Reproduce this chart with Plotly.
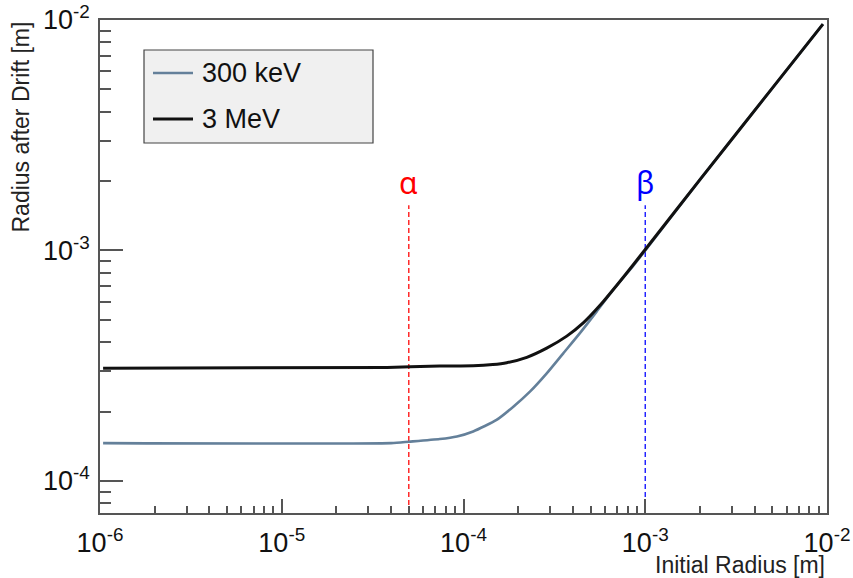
import numpy as np
import plotly.graph_objects as go

# Drift radius vs. initial radius for two beam energies
r0_300keV = [1.04e-6, 4.0e-5, 5.0e-5, 7.4e-5, 9.2e-5, 1.13e-4, 1.52e-4, 1.88e-4, 2.32e-4,
             2.87e-4, 3.54e-4, 4.37e-4, 5.40e-4, 6.5e-4, 8.6e-4, 1.01e-3, 2.0e-3, 5.0e-3, 9.5e-3]
rd_300keV = [1.46e-4, 1.46e-4, 1.48e-4, 1.52e-4, 1.56e-4, 1.64e-4, 1.84e-4, 2.10e-4, 2.44e-4,
             2.93e-4, 3.58e-4, 4.38e-4, 5.43e-4, 6.60e-4, 8.6e-4, 1.01e-3, 2.03e-3, 5.06e-3, 9.6e-3]

r0_3MeV = [1.04e-6, 3.8e-5, 7.4e-5, 1.13e-4, 1.45e-4, 1.73e-4, 2.23e-4, 2.87e-4, 3.70e-4,
           4.56e-4, 5.64e-4, 6.96e-4, 8.59e-4, 1.01e-3, 2.0e-3, 5.0e-3, 9.5e-3]
rd_3MeV = [3.08e-4, 3.11e-4, 3.15e-4, 3.16e-4, 3.20e-4, 3.26e-4, 3.44e-4, 3.77e-4, 4.25e-4,
           4.85e-4, 5.78e-4, 7.05e-4, 8.67e-4, 1.02e-3, 2.03e-3, 5.06e-3, 9.6e-3]

series_names = ["300 keV", "3 MeV"]

# Marker positions (alpha, beta) and top of their guide lines
marker_x = [5e-5, 1e-3]
marker_labels = ["α", "β"]
marker_top = 1.57e-3

# Axis ranges (log10)
x_range = [-6, -2]
y_range = [-4.139, -2]

x_major = [1e-6, 1e-5, 1e-4, 1e-3, 1e-2]
x_major_text = ["10<sup>-6</sup>", "10<sup>-5</sup>", "10<sup>-4</sup>", "10<sup>-3</sup>", "10<sup>-2</sup>"]
y_major = [1e-4, 1e-3, 1e-2]
y_major_text = ["10<sup>-4</sup>", "10<sup>-3</sup>", "10<sup>-2</sup>"]

x_minor = [k * 10.0 ** e for e in range(-6, -2) for k in range(2, 10)]
y_minor = [8e-5, 9e-5] + [k * 10.0 ** e for e in (-4, -3) for k in range(2, 10)]

BLUE = "#64809a"
BLACK = "#111111"
AXIS = "#555555"
FONT = "Liberation Sans, Arial, sans-serif"

fig = go.Figure()

y_bottom = 10 ** y_range[0]
guide_colors = ["#ff1a1a", "#1a1aff"]
for mx, col in zip(marker_x, guide_colors):
    fig.add_trace(go.Scatter(x=[mx, mx], y=[y_bottom, marker_top], mode="lines",
                             line=dict(color=col, width=1.4, dash="5px,3px"),
                             showlegend=False, hoverinfo="skip"))

fig.add_trace(go.Scatter(x=r0_300keV, y=rd_300keV, mode="lines", name=series_names[0],
                         line=dict(color=BLUE, width=2.6, shape="spline", smoothing=0.6),
                         showlegend=False))
fig.add_trace(go.Scatter(x=r0_3MeV, y=rd_3MeV, mode="lines", name=series_names[1],
                         line=dict(color=BLACK, width=3, shape="spline", smoothing=0.6),
                         showlegend=False))

for mx, lab, col in zip(marker_x, marker_labels, ["#ff0000", "#0000ff"]):
    fig.add_annotation(x=np.log10(mx), y=np.log10(marker_top), xref="x", yref="y",
                       text=lab, showarrow=False, yanchor="bottom",
                       font=dict(family="Noto Sans, sans-serif", size=30, color=col))

# Legend box drawn in paper coordinates
W, H = 727.0, 493.0
def px(xp):
    return (xp - 100) / W
def py(yp):
    return (513 - yp) / H

fig.add_shape(type="rect", xref="paper", yref="paper", x0=px(144), x1=px(373), y0=py(143), y1=py(50),
              line=dict(color="#444444", width=1.2), fillcolor="#f0f0f0", layer="above")
for name, col, w, yy in zip(series_names, [BLUE, BLACK], [2.6, 3], [73, 119]):
    fig.add_shape(type="line", xref="paper", yref="paper", x0=px(153), x1=px(193), y0=py(yy), y1=py(yy),
                  line=dict(color=col, width=w), layer="above")
    fig.add_annotation(x=px(200), y=py(yy), xref="paper", yref="paper", text=name, showarrow=False,
                       xanchor="left", yanchor="middle", font=dict(family=FONT, size=27, color="#111111"))

# Axis titles
fig.add_annotation(x=1.0, y=py(565), xref="paper", yref="paper", text="Initial Radius [m]",
                   showarrow=False, xanchor="right", yanchor="middle",
                   font=dict(family=FONT, size=23, color="#222222"))
fig.add_annotation(x=px(20), y=1.0, xref="paper", yref="paper", text="Radius after Drift [m]",
                   showarrow=False, textangle=-90, xanchor="center", yanchor="top",
                   font=dict(family=FONT, size=23, color="#222222"))

fig.update_xaxes(type="log", range=x_range, tickmode="array", tickvals=x_major, ticktext=x_major_text,
                 ticks="inside", ticklen=14, tickwidth=1.5, tickcolor=AXIS, ticklabelstandoff=5,
                 minor=dict(tickmode="array", tickvals=x_minor, ticks="inside", ticklen=7,
                            tickwidth=1.5, tickcolor=AXIS, showgrid=False),
                 showline=True, linecolor=AXIS, linewidth=1.5, mirror=True, showgrid=False,
                 zeroline=False, tickfont=dict(family=FONT, size=27, color="#111111"))
fig.update_yaxes(type="log", range=y_range, tickmode="array", tickvals=y_major, ticktext=y_major_text,
                 ticks="inside", ticklen=23, tickwidth=1.5, tickcolor=AXIS, ticklabelstandoff=3,
                 minor=dict(tickmode="array", tickvals=y_minor, ticks="inside", ticklen=11,
                            tickwidth=1.5, tickcolor=AXIS, showgrid=False),
                 showline=True, linecolor=AXIS, linewidth=1.5, mirror=True, showgrid=False,
                 zeroline=False, tickfont=dict(family=FONT, size=27, color="#111111"))

fig.update_layout(width=853, height=578, margin=dict(l=100, r=26, t=20, b=65, autoexpand=False),
                  paper_bgcolor="white", plot_bgcolor="white", showlegend=False)

fig.write_html("out.html")
